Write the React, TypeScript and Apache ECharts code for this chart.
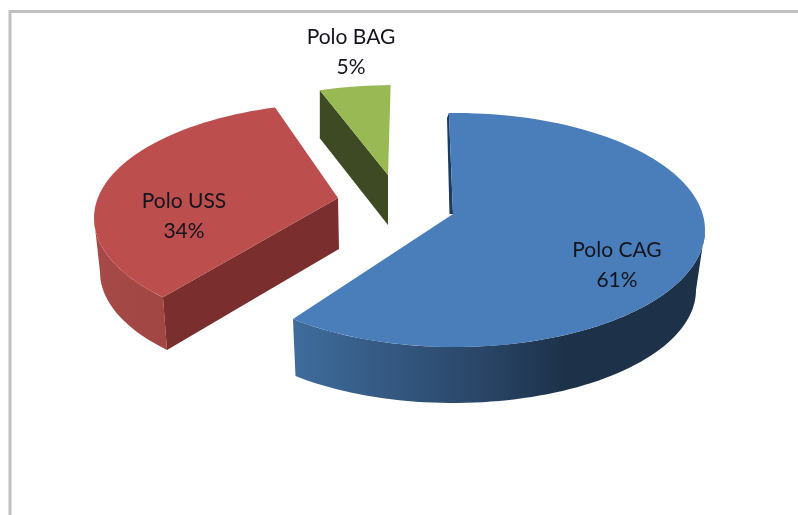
import React, { useEffect, useRef } from "react";
import * as echarts from "echarts";

const categories = ["Polo CAG", "Polo USS", "Polo BAG"];
const shares = [61, 34, 5];
const startAngle = -1;

// Perspective placement of each exploded slice (pixels / degrees), separate from the data.
const layouts = [
  {
    top: { cx: 455, cy: 230, rx: 250, ry: 117 },
    rim: { cx: 453, cy: 290, rx: 243, ry: 113 },
    apex: [453, 214], apexLow: [453, 214], startNudge: -0.4, endNudge: 1.8,
    label: [617, 263], topFill: "#4a7ebb", cutFill: "#1b3a5e",
    sideStops: [[0, "#3f6c9c"], [0.45, "#2a4668"], [0.67, "#1d3148"], [1, "#1d3148"]],
    sliver: [[447, 118], [449.5, 214]], cutFrom: "none",
  },
  {
    top: { cx: 344, cy: 218, rx: 250, ry: 115 },
    rim: { cx: 343, cy: 272, rx: 243, ry: 113 },
    apex: [338, 198], apexLow: [339, 249], startNudge: 7.8, endNudge: 3,
    label: [184, 214], topFill: "#bc4f4d", cutFill: "#7a2f2e",
    sideStops: [[0, "#a64a47"], [1, "#a24644"]],
    sliver: null, cutFrom: "start",
  },
  {
    top: { cx: 395, cy: 200, rx: 250, ry: 115 },
    rim: { cx: 395, cy: 246, rx: 250, ry: 113 },
    apex: [388, 175], apexLow: [388, 225], startNudge: 1.5, endNudge: 0,
    label: [351, 50], topFill: "#98b954", cutFill: "#3e4a23",
    sideStops: [[0, "#3e4a23"], [1, "#3e4a23"]],
    sliver: null, cutFrom: "start",
  },
];

const rad = (d: number) => (d * Math.PI) / 180;
const onEllipse = (e: any, deg: number) => [
  e.cx + e.rx * Math.sin(rad(deg)),
  e.cy - e.ry * Math.cos(rad(deg)),
];
const arc = (e: any, a: number, b: number) => {
  const pts: number[][] = [];
  const steps = Math.max(2, Math.ceil(Math.abs(b - a) / 2));
  for (let i = 0; i <= steps; i++) pts.push(onEllipse(e, a + ((b - a) * i) / steps));
  return pts;
};

function sliceSpan(index: number) {
  const total = shares.reduce((s, v) => s + v, 0);
  const before = shares.slice(0, index).reduce((s, v) => s + v, 0);
  const l = layouts[index];
  return [
    startAngle + (before / total) * 360 + l.startNudge,
    startAngle + ((before + shares[index]) / total) * 360 + l.endNudge,
  ];
}

function renderSlice(params: any) {
  const i = params.dataIndex;
  const l = layouts[i];
  const [a, b] = sliceSpan(i);
  const children: any[] = [];

  // outer wall: only the part facing the viewer
  const from = Math.max(a, 90);
  const to = Math.min(b, 270);
  if (to > from) {
    children.push({
      type: "polygon",
      shape: { points: [...arc(l.top, from, to), ...arc(l.rim, to, from)] },
      style: {
        fill: new echarts.graphic.LinearGradient(
          0, 0, 1, 0,
          l.sideStops.map((s: any) => ({ offset: s[0], color: s[1] }))
        ),
      },
    });
  }
  // cut wall
  if (l.cutFrom === "start") {
    children.push({
      type: "polygon",
      shape: { points: [l.apex, onEllipse(l.top, a), onEllipse(l.rim, a), l.apexLow] },
      style: { fill: l.cutFill },
    });
  }
  if (l.sliver) {
    children.push({
      type: "polygon",
      shape: { points: [onEllipse(l.top, a), l.apex, l.sliver[1], l.sliver[0]] },
      style: { fill: l.cutFill },
    });
  }
  // top face
  children.push({
    type: "polygon",
    shape: { points: [l.apex, ...arc(l.top, a, b)] },
    style: { fill: l.topFill },
  });
  // label
  children.push({
    type: "text",
    style: {
      text: `${categories[i]}\n${shares[i]}%`,
      x: l.label[0],
      y: l.label[1],
      align: "center",
      verticalAlign: "middle",
      fontFamily: "Lato",
      fontSize: 21,
      lineHeight: 30,
      fill: "#14141f",
    },
  });
  return { type: "group", children };
}

export default function App() {
  const ref = useRef<HTMLDivElement>(null);
  useEffect(() => {
    const chart = echarts.init(ref.current!, null, { renderer: "svg" });
    chart.setOption({
      animation: false,
      backgroundColor: "#ffffff",
      graphic: [
        { type: "line", silent: true, shape: { x1: 10, y1: 11.5, x2: 798, y2: 11.5 }, style: { stroke: "#c0c0c0", lineWidth: 3 } },
        { type: "line", silent: true, shape: { x1: 10, y1: 10, x2: 10, y2: 515 }, style: { stroke: "#c0c0c0", lineWidth: 3 } },
      ],
      series: [
        {
          type: "custom",
          coordinateSystem: "none",
          silent: true,
          renderItem: renderSlice,
          data: shares.map((v, i) => ({ name: categories[i], value: v })),
        },
      ],
    });
    return () => chart.dispose();
  }, []);
  return (
    <div
      ref={ref}
      style={{ position: "absolute", left: 0, top: 0, width: 798, height: 515, filter: "blur(0.5px)" }}
    />
  );
}
